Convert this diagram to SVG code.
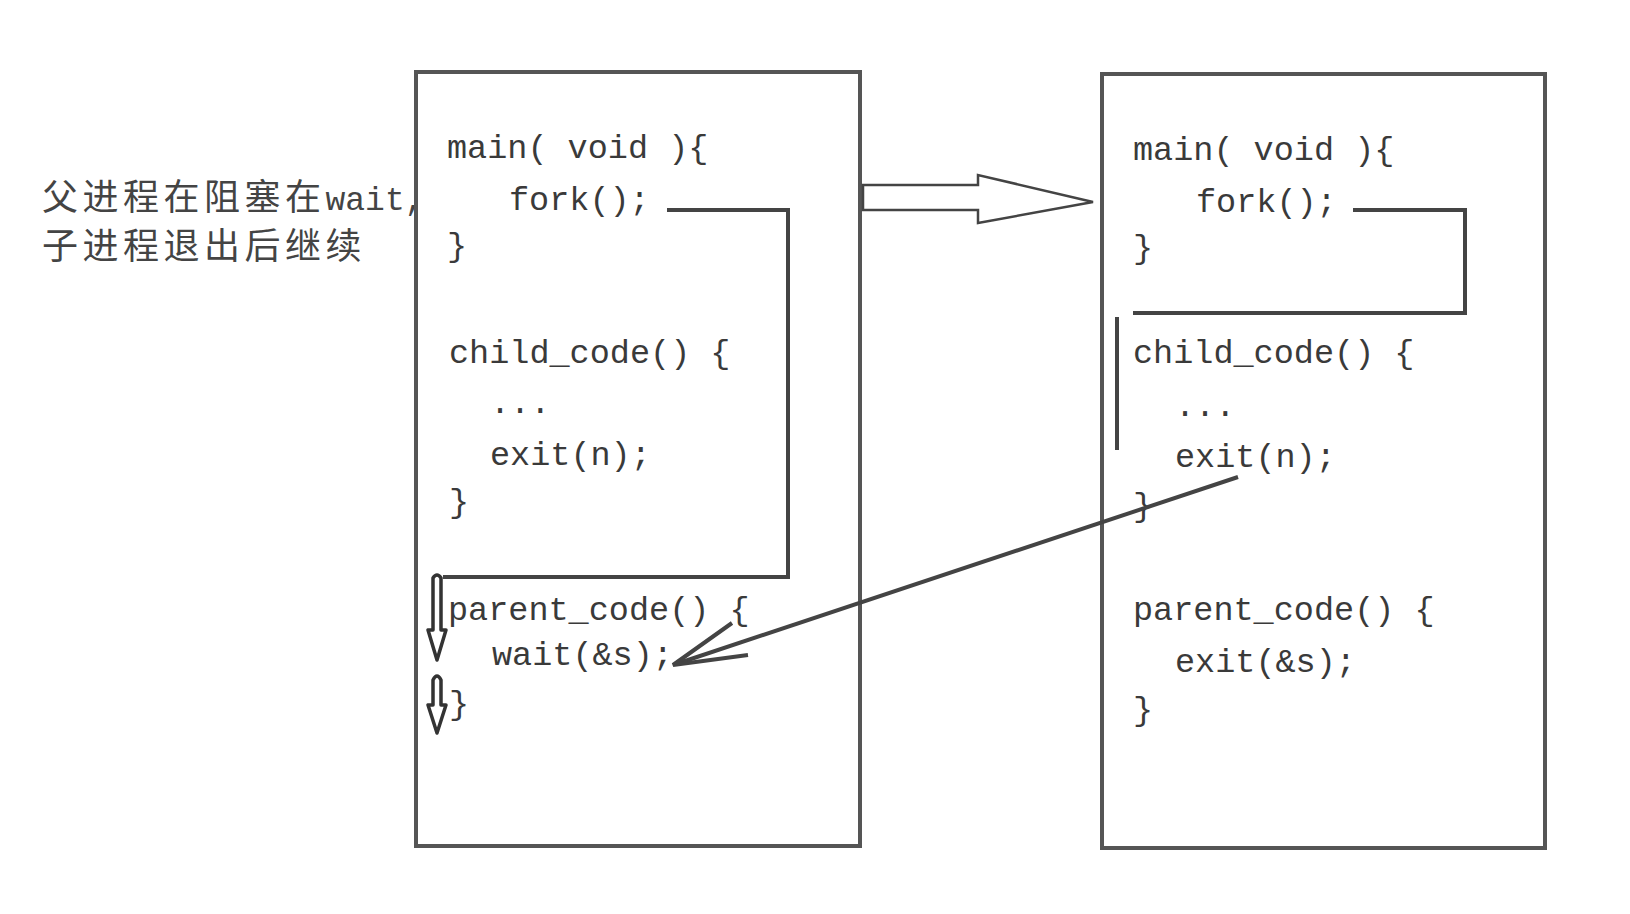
<svg xmlns="http://www.w3.org/2000/svg" width="1630" height="914" viewBox="0 0 1630 914">
<style>
.box{fill:none;stroke:#555;stroke-width:4}
.code{font-family:"Liberation Mono","DejaVu Sans Mono",monospace;font-size:33.5px;fill:#3a3a3a}
.cn{font-family:"Noto Sans CJK SC",sans-serif;font-size:36px;fill:#444;letter-spacing:4.5px}
.ln{fill:none;stroke:#444;stroke-width:4;stroke-linejoin:miter}
.hollow{fill:#fff;stroke:#444;stroke-width:2.5;stroke-linejoin:miter}
.small{fill:#fff;stroke:#333;stroke-width:3.5;stroke-linejoin:round}
</style>
<rect width="1630" height="914" fill="#fff"/>
<g id="note">
<text class="cn" x="42" y="210">父进程在阻塞在<tspan font-family="Liberation Mono, monospace" font-size="33" letter-spacing="0">wait,</tspan></text>
<text class="cn" x="42" y="259">子进程退出后继续</text>
</g>
<g id="parent">
<rect class="box" x="416" y="72" width="444" height="774"/>
<text class="code" x="447" y="158">main( void ){</text>
<text class="code" x="509" y="210">fork();</text>
<text class="code" x="447" y="256">}</text>
<text class="code" x="449" y="363">child_code() {</text>
<text class="code" x="490" y="413">...</text>
<text class="code" x="490" y="465">exit(n);</text>
<text class="code" x="449" y="512">}</text>
<text class="code" x="448" y="620">parent_code() {</text>
<text class="code" x="492" y="665">wait(&amp;s);</text>
<text class="code" x="449" y="714">}</text>
</g>
<g id="child">
<rect class="box" x="1102" y="74" width="443" height="774"/>
<text class="code" x="1133" y="160">main( void ){</text>
<text class="code" x="1196" y="212">fork();</text>
<text class="code" x="1133" y="258">}</text>
<text class="code" x="1133" y="363">child_code() {</text>
<text class="code" x="1175" y="416">...</text>
<text class="code" x="1175" y="467">exit(n);</text>
<text class="code" x="1133" y="516">}</text>
<text class="code" x="1133" y="620">parent_code() {</text>
<text class="code" x="1175" y="672">exit(&amp;s);</text>
<text class="code" x="1133" y="720">}</text>
</g>
<g id="connectors">
<polyline class="ln" points="667,210 788,210 788,577 443,577"/>
<polyline class="ln" points="1353,210 1465,210 1465,313 1133,313"/>
<line class="ln" x1="1117" y1="317" x2="1117" y2="450"/>
<polygon class="hollow" points="863,185 978,185 978,175 1093,202 978,223 978,210 863,210"/>
<path class="small" d="M433,578 Q437,572 441,578 L441,630 L446,630 L437,660 L428,630 L433,630 Z"/>
<path class="small" d="M433,680 Q437,672 441,680 L441,705 L446,705 L437,733 L428,705 L433,705 Z"/>
<line class="ln" x1="1238" y1="477" x2="676" y2="664" stroke-width="3.5"/>
<polyline class="ln" points="732,623 673,665 748,655" stroke-width="4"/>
</g>
</svg>
